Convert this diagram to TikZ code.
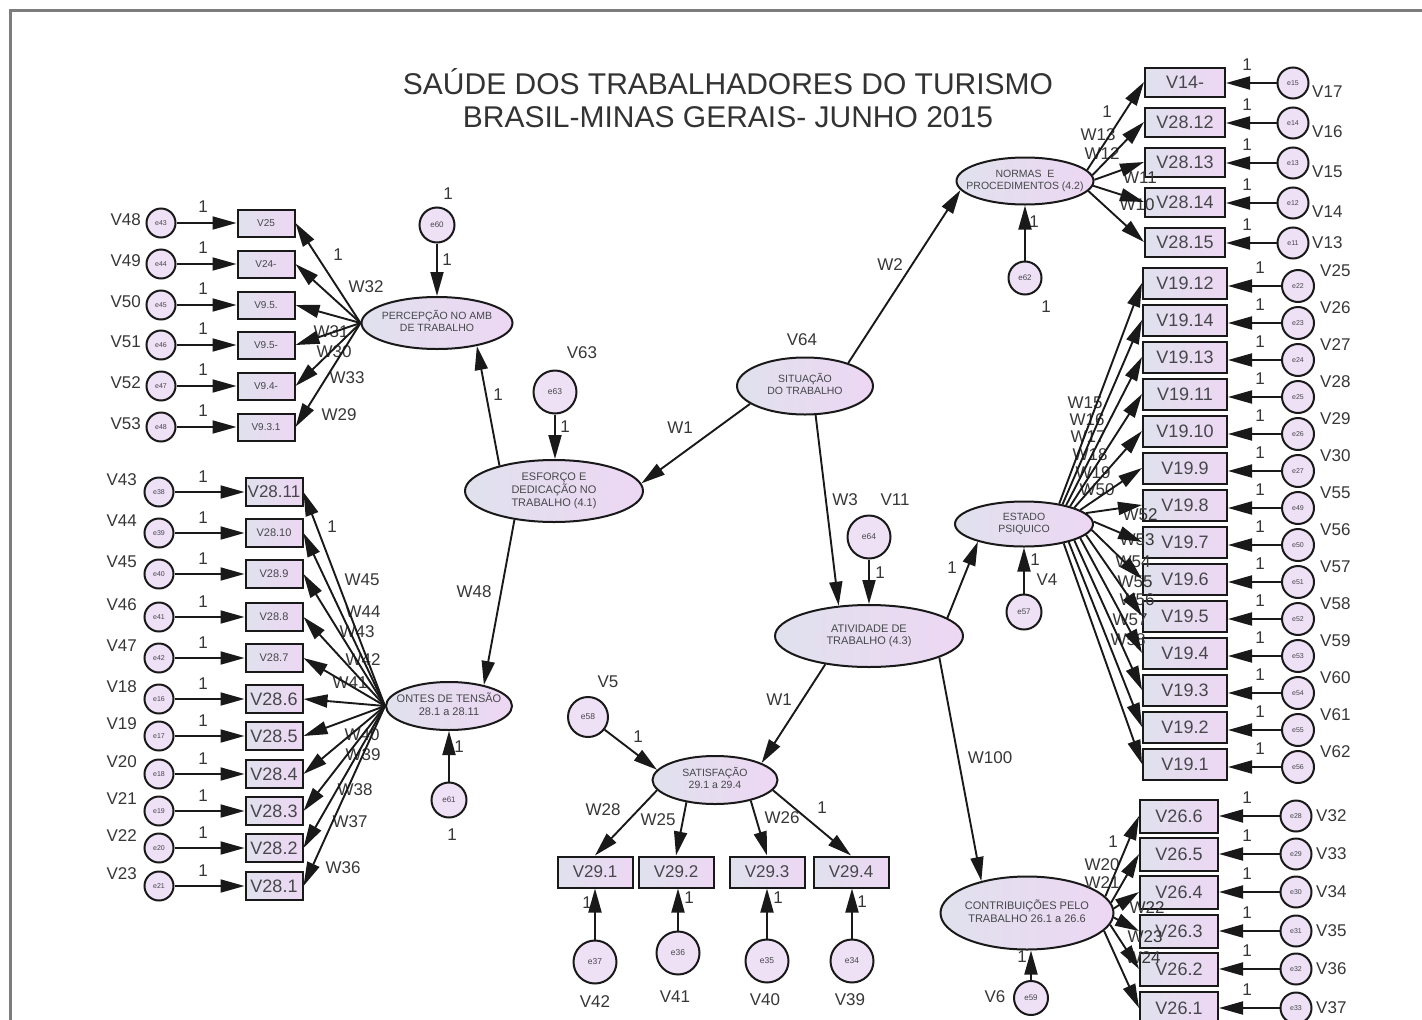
\documentclass[tikz,border=0pt]{standalone}
\usepackage{fontspec}
\setmainfont{Liberation Sans}
\usetikzlibrary{arrows.meta,shapes.geometric}

\definecolor{boxL}{RGB}{224,225,237}
\definecolor{boxR}{RGB}{237,215,243}
\definecolor{errfill}{RGB}{238,224,245}
\definecolor{ink}{RGB}{25,25,25}
\definecolor{txt}{RGB}{70,70,75}
\definecolor{lbltxt}{RGB}{55,55,55}
\definecolor{framecol}{RGB}{125,125,125}

\newcommand{\fsz}[1]{\fontsize{#1}{#1}\selectfont}
\newcommand{\eltxt}[1]{\makebox[0pt][c]{\renewcommand{\arraystretch}{1.12}\begin{tabular}{@{}c@{}}#1\end{tabular}}}

\tikzset{
  obs/.style={rectangle, draw=ink, line width=2pt, left color=boxL, right color=boxR, inner sep=0pt, text=txt},
  obsP/.style={obs, minimum width=57pt, minimum height=27pt, font=\fsz{10}},
  obsF/.style={obs, minimum width=57pt, minimum height=28pt},
  obsN/.style={obs, minimum width=80pt, minimum height=29pt, font=\fsz{18}},
  obsE/.style={obs, minimum width=84pt, minimum height=31pt, font=\fsz{18}},
  obsC/.style={obs, minimum width=78pt, minimum height=33pt, font=\fsz{18}},
  obsS/.style={obs, minimum width=75pt, minimum height=31pt, font=\fsz{17}},
  errS/.style={circle, draw=ink, line width=2pt, fill=errfill, inner sep=0pt, minimum size=29pt, font=\fsz{7}, text=txt},
  errM/.style={errS, minimum size=35pt, font=\fsz{8}},
  errL/.style={errS, minimum size=43pt, font=\fsz{8.5}},
  lat/.style={ellipse, draw=ink, line width=2pt, left color=boxL, right color=boxR, inner sep=0pt, font=\fsz{10.5}, text=txt},
  arr/.style={draw=ink, line width=1.9pt, -{Triangle[length=24pt,width=13pt]}},
  lbl/.style={inner sep=0pt, font=\fsz{17}, text=lbltxt},
}

\begin{document}
\begin{tikzpicture}[x=1pt,y=-1pt]
\fill[white] (0,0) rectangle (1422,1020);
\useasboundingbox (0,0) rectangle (1422,1020);
\draw[framecol, line width=3pt] (10,1020) -- (10,10) -- (1422,10);

% title
\node[inner sep=0pt, font=\fsz{30}, text=black!80] (title1) at (728,82) {SAÚDE DOS TRABALHADORES DO TURISMO};
\node[inner sep=0pt, font=\fsz{30}, text=black!80] (title2) at (728,117) {BRASIL-MINAS GERAIS- JUNHO 2015};

% ---------- latent variables ----------
\node[lat, minimum width=151pt, minimum height=52pt] (P) at (437,323) {\eltxt{PERCEPÇÃO NO AMB\\DE TRABALHO}};
\node[lat, minimum width=178pt, minimum height=62pt, font=\fsz{11}] (S) at (554,491) {\eltxt{ESFORÇO E\\DEDICAÇÃO NO\\TRABALHO (4.1)}};
\node[lat, minimum width=136pt, minimum height=57pt] (SIT) at (805,386) {\eltxt{SITUAÇÃO\\DO TRABALHO}};
\node[lat, minimum width=188pt, minimum height=62pt, font=\fsz{11}] (A) at (869,636) {\eltxt{ATIVIDADE DE\\TRABALHO (4.3)}};
\node[lat, minimum width=125pt, minimum height=48pt] (SAT) at (715,780) {\eltxt{SATISFAÇÃO\\29.1 a 29.4}};
\node[lat, minimum width=126pt, minimum height=48pt, font=\fsz{11}] (F) at (449,706) {\eltxt{ONTES DE TENSÃO\\28.1 a 28.11}};
\node[lat, minimum width=137pt, minimum height=47pt] (N) at (1025,181) {\eltxt{NORMAS\ \ E\\PROCEDIMENTOS (4.2)}};
\node[lat, minimum width=138pt, minimum height=45pt] (E) at (1024,524) {\eltxt{ESTADO\\PSIQUICO}};
\node[lat, minimum width=173pt, minimum height=73pt, font=\fsz{11}] (C) at (1027,913) {\eltxt{CONTRIBUIÇÕES PELO\\TRABALHO 26.1 a 26.6}};

% ---------- residuals of the latent variables ----------
\node[errM] (e60) at (437,225) {e60};
\node[errL] (e63) at (555,392) {e63};
\node[errL] (e64) at (869,537) {e64};
\node[errL, minimum size=40pt] (e58) at (588,717) {e58};
\node[errM] (e61) at (449,800) {e61};
\node[errM, minimum size=33pt] (e62) at (1025,278) {e62};
\node[errM] (e57) at (1024,612) {e57};
\node[errM, minimum size=34pt] (e59) at (1031,998) {e59};

% ---------- PERCEPCAO indicators ----------
\foreach \nm/\yy/\tx/\er/\lb in {pa/223/V25/e43/V48, pb/264/V24-/e44/V49, pc/305/V9.5./e45/V50, pd/345/V9.5-/e46/V51, pe/386/V9.4-/e47/V52, pf/427/V9.3.1/e48/V53}{
  \node[obsP] (\nm) at (266,\yy) {\tx};
  \node[errS] (\er) at (161,\yy) {\er};
  \node[lbl, anchor=east] (v\er) at (141,\yy-3) {\lb};
  \node[lbl] (o\er) at (203,\yy-16) {1};
}

% ---------- FONTES DE TENSAO indicators ----------
\foreach \nm/\yy/\tx/\fz/\er/\lb in {fa/492/V28.11/17/e38/V43, fb/533/V28.10/11/e39/V44, fc/574/V28.9/11/e40/V45, fd/617/V28.8/11/e41/V46, fe/658/V28.7/11/e42/V47, ff/699/V28.6/18/e16/V18, fg/736/V28.5/18/e17/V19, fh/774/V28.4/18/e18/V20, fi/811/V28.3/18/e19/V21, fj/848/V28.2/18/e20/V22, fk/886/V28.1/18/e21/V23}{
  \node[obsF, font=\fsz{\fz}] (\nm) at (274,\yy) {\tx};
  \node[errS] (\er) at (159,\yy) {\er};
  \node[lbl, anchor=east] (v\er) at (137,\yy-12) {\lb};
  \node[lbl] (o\er) at (203,\yy-15) {1};
}

% ---------- SATISFACAO indicators ----------
\foreach \nm/\xx/\tx/\er/\ex/\ey/\lb/\lx/\ly/\ox/\oy in {s1/595/V29.1/e37/595/962/V42/595/1002/587/903, s2/676/V29.2/e36/678/953/V41/675/997/689/898, s3/767/V29.3/e35/767/961/V40/765/1000/778/898, s4/851/V29.4/e34/852/961/V39/850/1000/862/902}{
  \node[obsS] (\nm) at (\xx,872) {\tx};
  \node[errL] (\er) at (\ex,\ey) {\er};
  \node[lbl] (v\er) at (\lx,\ly) {\lb};
  \node[lbl] (o\er) at (\ox,\oy) {1};
}

% ---------- NORMAS indicators ----------
\foreach \nm/\yy/\tx/\er/\lb/\dy in {na/82/V14-/e15/V17/10, nb/122/V28.12/e14/V16/10, nc/162/V28.13/e13/V15/10, nd/202/V28.14/e12/V14/10, ne/242/V28.15/e11/V13/1}{
  \node[obsN] (\nm) at (1185,\yy) {\tx};
  \node[errS, minimum size=31pt] (\er) at (1293,\yy+1) {\er};
  \node[lbl, anchor=west] (v\er) at (1312,\yy+\dy) {\lb};
  \node[lbl] (o\er) at (1247,\yy-17) {1};
}

% ---------- ESTADO PSIQUICO indicators ----------
\foreach \nm/\k/\tx/\er/\lb in {ya/0/V19.12/e22/V25, yb/1/V19.14/e23/V26, yc/2/V19.13/e24/V27, yd/3/V19.11/e25/V28, ye/4/V19.10/e26/V29, yf/5/V19.9/e27/V30, yg/6/V19.8/e49/V55, yh/7/V19.7/e50/V56, yi/8/V19.6/e51/V57, yj/9/V19.5/e52/V58, yk/10/V19.4/e53/V59, yl/11/V19.3/e54/V60, ym/12/V19.2/e55/V61, yn/13/V19.1/e56/V62}{
  \node[obsE] (\nm) at (1185,283+37*\k) {\tx};
  \node[errS, minimum size=32pt] (\er) at (1298,286+37*\k) {\er};
  \node[lbl, anchor=west] (v\er) at (1320,271+37*\k) {\lb};
  \node[lbl] (o\er) at (1260,268+37*\k) {1};
}

% ---------- CONTRIBUICOES indicators ----------
\foreach \nm/\yy/\tx/\er/\lb in {ca/816/V26.6/e28/V32, cb/854/V26.5/e29/V33, cc/892/V26.4/e30/V34, cd/931/V26.3/e31/V35, ce/969/V26.2/e32/V36, cf/1008/V26.1/e33/V37}{
  \node[obsC] (\nm) at (1179,\yy) {\tx};
  \node[errS, minimum size=31pt] (\er) at (1296,\yy) {\er};
  \node[lbl, anchor=west] (v\er) at (1316,\yy) {\lb};
  \node[lbl] (o\er) at (1247,\yy-18) {1};
}

% ---------- path coefficients and variable labels ----------
\foreach \nm/\xx/\yy/\tx in {
  l01/338/255/1, l02/366/287/W32, l03/331/332/W31, l04/334/352/W30, l05/347/378/W33, l06/339/415/W29, l07/448/194/1, l08/447/260/1,
  l09/582/353/V63, l10/565/427/1, l11/498/395/1, l12/474/592/W48, l13/680/428/W1,
  l14/802/340/V64, l15/890/265/W2, l16/845/500/W3, l17/895/500/V11, l18/880/573/1,
  l19/952/568/1, l20/779/700/W1, l21/990/758/W100,
  l22/608/682/V5, l23/638/737/1, l24/603/810/W28, l25/658/820/W25, l26/782/818/W26, l27/822/808/1,
  l36/332/527/1, l37/362/580/W45, l38/363/612/W44, l39/357/632/W43, l40/363/660/W42, l41/350/683/W41,
  l42/362/735/W40, l43/363/755/W39, l44/355/790/W38, l45/350/822/W37, l46/343/868/W36, l47/459/747/1, l48/452/835/1,
  l50/1107/112/1, l51/1098/135/W13, l52/1102/154/W12, l53/1140/178/W11, l54/1137/205/W10, l55/1034/222/1, l56/1046/307/1,
  l60/1035/560/1, l61/1047/580/V4,
  l62/1085/403/W15, l63/1087/420/W16, l64/1088/437/W17, l65/1090/455/W18, l66/1093/473/W19, l67/1097/490/W50,
  l68/1140/515/W52, l69/1137/540/W53, l70/1133/562/W54, l71/1135/582/W55, l72/1137/600/W56, l73/1130/620/W57, l74/1128/640/W58,
  l80/995/997/V6, l81/1022/957/1, l82/1113/842/1, l83/1102/865/W20, l84/1102/883/W21, l85/1147/908/W22, l86/1145/937/W23, l87/1143/958/W24}
  \node[lbl] (\nm) at (\xx,\yy) {\tx};

% ---------- structural paths ----------
\draw[arr] (e60) -- (P.north);
\draw[arr] (e63) -- (e63 |- S.north);
\draw[arr] (S.155) -- (P.-30);
\draw[arr] (S.216) -- (F.31);
\draw[arr] (SIT.198) -- (S.5);
\draw[arr] (SIT.28) -- (N.188);
\draw[arr] (SIT.290) -- (A.135);
\draw[arr] (e64) -- (A.north);
\draw[arr] (A.13) -- (E.201);
\draw[arr] (A.213) -- (SAT.20);
\draw[arr] (A.343) -- (C.145);
\draw[arr] (e58) -- (SAT.170);
\draw[arr] (e61) -- (F.south);
\draw[arr] (e62) -- (N.south);
\draw[arr] (e57) -- (E.south);
\draw[arr] (e59) -- (e59 |- C.south);

% ---------- measurement paths ----------
\foreach \nm/\er in {pa/e43, pb/e44, pc/e45, pd/e46, pe/e47, pf/e48}{
  \draw[arr] (P.west) -- (\nm.east);
  \draw[arr] (\er) -- (\nm.west);
}
\foreach \nm/\er in {fa/e38, fb/e39, fc/e40, fd/e41, fe/e42, ff/e16, fg/e17, fh/e18, fi/e19, fj/e20, fk/e21}{
  \draw[arr] (F.west) -- (\nm.east);
  \draw[arr] (\er) -- (\nm.west);
}
\foreach \nm/\er/\ang in {s1/e37/190, s2/e36/218, s3/e35/330, s4/e34/350}{
  \draw[arr] (SAT.\ang) -- (\nm.north);
  \draw[arr] (\er) -- (\er |- \nm.south);
}
\foreach \nm/\er/\ang in {na/e15/10, nb/e14/5, nc/e13/1, nd/e12/-4, ne/e11/-9}{
  \draw[arr] (N.\ang) -- (\nm.west);
  \draw[arr] (\er) -- (\er -| \nm.east);
}
\foreach \nm/\er/\ang in {ya/e22/30, yb/e23/27, yc/e24/24, yd/e25/21, ye/e26/18, yf/e27/14, yg/e49/10, yh/e50/2, yi/e51/-5, yj/e52/-10, yk/e53/-14, yl/e54/-18, ym/e55/-22, yn/e56/-26}{
  \draw[arr] (E.\ang) -- (\nm.west);
  \draw[arr] (\er) -- (\er -| \nm.east);
}
\foreach \nm/\er/\ang in {ca/e28/12, cb/e29/7, cc/e30/3, cd/e31/-3, ce/e32/-8, cf/e33/-13}{
  \draw[arr] (C.\ang) -- (\nm.west);
  \draw[arr] (\er) -- (\nm.east);
}
\end{tikzpicture}
\end{document}
